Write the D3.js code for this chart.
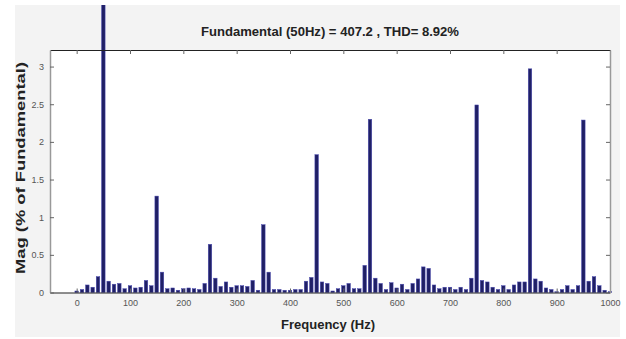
<!DOCTYPE html>
<html>
<head>
<meta charset="utf-8">
<script src="https://cdn.jsdelivr.net/npm/d3@7"></script>
<style>
  html, body { margin: 0; padding: 0; background: #ffffff; }
  svg { display: block; }
</style>
</head>
<body>
<svg id="chart" width="626" height="339"></svg>
<script>
// ---- data ----
const frequencies = d3.range(0, 1001, 10);
const magnitudes = [
  0.02, 0.04, 0.10, 0.07, 0.21, 100, 0.15, 0.11, 0.12, 0.05,   // 0-90
  0.09, 0.06, 0.07, 0.16, 0.09, 1.28, 0.27, 0.05, 0.06, 0.03,  // 100-190
  0.05, 0.06, 0.05, 0.04, 0.12, 0.64, 0.19, 0.08, 0.14, 0.07,  // 200-290
  0.09, 0.09, 0.08, 0.16, 0.03, 0.90, 0.27, 0.04, 0.04, 0.03,  // 300-390
  0.03, 0.04, 0.04, 0.15, 0.20, 1.83, 0.14, 0.12, 0.02, 0.05,  // 400-490
  0.09, 0.12, 0.05, 0.05, 0.36, 2.30, 0.19, 0.12, 0.04, 0.13,  // 500-590
  0.06, 0.11, 0.04, 0.12, 0.18, 0.34, 0.32, 0.10, 0.05, 0.07,  // 600-690
  0.07, 0.04, 0.07, 0.04, 0.19, 2.49, 0.16, 0.14, 0.07, 0.04,  // 700-790
  0.09, 0.04, 0.10, 0.14, 0.14, 2.97, 0.18, 0.15, 0.06, 0.04,  // 800-890
  0.01, 0.04, 0.09, 0.04, 0.09, 2.29, 0.15, 0.21, 0.09, 0.03,  // 900-990
  0.01                                                         // 1000
];
const xTicks = [0, 100, 200, 300, 400, 500, 600, 700, 800, 900, 1000];
const yTicks = [0, 0.5, 1, 1.5, 2, 2.5, 3];
const titleText = "Fundamental (50Hz) = 407.2 , THD= 8.92%";
const xLabelText = "Frequency (Hz)";
const yLabelText = "Mag (% of Fundamental)";

// ---- layout ----
const W = 626, H = 339;
const plot = { left: 50, right: 610, top: 50, bottom: 292.5 };
const svg = d3.select("#chart");

const x = d3.scaleLinear().domain([-50, 1000]).range([plot.left, plot.right]);
const y = d3.scaleLinear().domain([0, 3.22]).range([plot.bottom, plot.top]);

// figure background
svg.append("rect").attr("x", 0).attr("y", 0).attr("width", W).attr("height", H).attr("fill", "#ffffff");
svg.append("rect").attr("x", 15).attr("y", 5).attr("width", 605).attr("height", 332).attr("fill", "#f3f3f3");

svg.append("defs").append("clipPath").attr("id", "fig")
  .append("rect").attr("x", 15).attr("y", 5).attr("width", 605).attr("height", 332);

// plot background
svg.append("rect")
  .attr("x", plot.left).attr("y", plot.top)
  .attr("width", plot.right - plot.left).attr("height", plot.bottom - plot.top)
  .attr("fill", "#ffffff");

// bars
const barW = (x(10) - x(0)) * 0.66;
const data = frequencies.map((f, i) => ({ f, v: magnitudes[i] }));
svg.append("g").attr("clip-path", "url(#fig)")
  .selectAll("rect").data(data).join("rect")
  .attr("x", d => x(d.f) - barW / 2)
  .attr("y", d => y(d.v))
  .attr("width", barW)
  .attr("height", d => Math.max(0, y(0) - y(d.v)))
  .attr("fill", "#202066")
  .attr("stroke", "#4a4ab0")
  .attr("stroke-width", 0.5);

// axes
const tickCol = "#666";
const fontTick = "Liberation Sans, Arial, sans-serif";

const xBottom = d3.axisBottom(x).tickValues(xTicks).tickSizeInner(-4).tickSizeOuter(0).tickPadding(7).tickFormat(d3.format("d"));
const gxb = svg.append("g").attr("transform", `translate(0,${plot.bottom})`).call(xBottom);
const xTop = d3.axisTop(x).tickValues(xTicks).tickSizeInner(-4).tickSizeOuter(0).tickFormat("");
const gxt = svg.append("g").attr("transform", `translate(0,${plot.top})`).call(xTop);
const yLeft = d3.axisLeft(y).tickValues(yTicks).tickSizeInner(-4).tickSizeOuter(0).tickPadding(6).tickFormat(d => d);
const gyl = svg.append("g").attr("transform", `translate(${plot.left},0)`).call(yLeft);
const yRight = d3.axisRight(y).tickValues(yTicks).tickSizeInner(-4).tickSizeOuter(0).tickFormat("");
const gyr = svg.append("g").attr("transform", `translate(${plot.right},0)`).call(yRight);

[gxb, gxt].forEach(g => g.select(".domain").attr("stroke", "#222").attr("stroke-width", 1));
[gyl, gyr].forEach(g => g.select(".domain").attr("stroke", "#999").attr("stroke-width", 1.5));
[gxb, gxt, gyl, gyr].forEach(g => {
  g.selectAll(".tick line").attr("stroke", tickCol);
  g.selectAll(".tick text").attr("fill", "#555").attr("font-size", 9).attr("font-family", fontTick);
});

// title
svg.append("text")
  .attr("x", 330).attr("y", 36)
  .attr("text-anchor", "middle")
  .attr("font-family", "Liberation Sans, Arial, sans-serif")
  .attr("font-weight", "bold").attr("font-size", 12.5)
  .attr("textLength", 258).attr("lengthAdjust", "spacingAndGlyphs")
  .attr("fill", "#222")
  .text(titleText);

// x label
svg.append("text")
  .attr("x", 328).attr("y", 329)
  .attr("text-anchor", "middle")
  .attr("font-family", "Liberation Sans, Arial, sans-serif")
  .attr("font-weight", "bold").attr("font-size", 12.5)
  .attr("textLength", 94).attr("lengthAdjust", "spacingAndGlyphs")
  .attr("fill", "#222")
  .text(xLabelText);

// y label
svg.append("text")
  .attr("transform", `translate(25,168) rotate(-90)`)
  .attr("text-anchor", "middle")
  .attr("font-family", "Liberation Sans, Arial, sans-serif")
  .attr("font-weight", "bold").attr("font-size", 13.5)
  .attr("textLength", 212).attr("lengthAdjust", "spacingAndGlyphs")
  .attr("fill", "#222")
  .text(yLabelText);
</script>
</body>
</html>
